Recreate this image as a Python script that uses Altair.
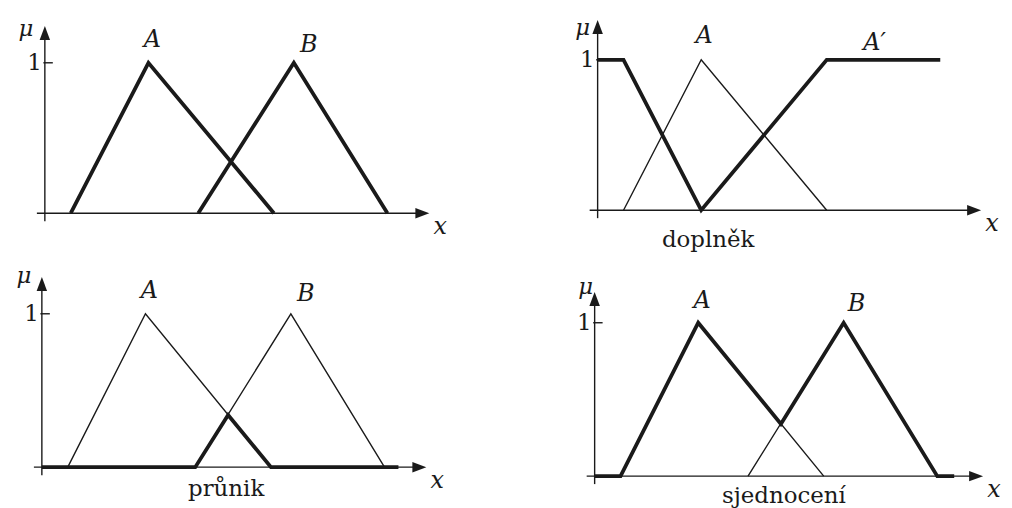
import altair as alt
import pandas as pd

# ---- data: fuzzy sets (x in arbitrary units, mu in [0,1]) ----
A_x = [2.6, 10.4, 23.0]
A_mu = [0.0, 1.0, 0.0]
B_x = [15.4, 25.0, 34.4]
B_mu = [0.0, 1.0, 0.0]
Acomp_x = [0.0, 2.6, 10.4, 23.0, 34.4]
Acomp_mu = [1.0, 1.0, 0.0, 1.0, 1.0]
inter_x = [0.0, 15.4, 18.7, 23.0, 35.8]
inter_mu = [0.0, 0.0, 0.34, 0.0, 0.0]
union_x = [0.0, 2.6, 10.4, 18.7, 25.0, 34.4, 36.1]
union_mu = [0.0, 0.0, 1.0, 0.34, 1.0, 0.0, 0.0]

captions = ["", "doplněk", "průnik", "sjednocení"]

INK = "#1a1a1a"
FONT = "DejaVu Serif"


def series(name, xs, ys):
    return pd.DataFrame({"s": name, "x": xs, "mu": ys, "o": range(len(xs))})


def panel(thick, thin, labels, caption, cap_xy, ox, oy, ppy, left, top,
          W=500, H=250, ppx=10.0, xtip=38.5, ytip=1.245, mu_xy=(-1.9, 1.24)):
    xdom = [(left - ox) / ppx, (left + W - ox) / ppx]
    ydom = [(oy - (top + H)) / ppy, (oy - top) / ppy]
    xs = alt.Scale(domain=xdom, nice=False, zero=False)
    ys = alt.Scale(domain=ydom, nice=False, zero=False)
    X = lambda f="x": alt.X(f, type="quantitative", scale=xs, axis=None)
    Y = lambda f="mu": alt.Y(f, type="quantitative", scale=ys, axis=None)

    layers = []
    # axis lines and the tick at mu = 1
    ax = pd.DataFrame({
        "x": [-0.8, 0.0, -0.15],
        "x2": [xtip - 1.0, 0.0, 0.8],
        "mu": [0.0, -8 / ppy, 1.0],
        "mu2": [0.0, ytip - 10 / ppy, 1.0],
    })
    layers.append(alt.Chart(ax).mark_rule(color=INK, strokeWidth=1.4).encode(
        x=X(), x2="x2", y=Y(), y2="mu2"))
    # arrow heads
    up = pd.DataFrame({"x": [0.0], "mu": [ytip - 7 / ppy]})
    rt = pd.DataFrame({"x": [xtip - 0.7], "mu": [0.0]})
    layers.append(alt.Chart(up).mark_point(
        shape="M-0.75,1L0,-1L0.75,1Z", size=196, filled=True, color=INK, opacity=1
    ).encode(x=X(), y=Y()))
    layers.append(alt.Chart(rt).mark_point(
        shape="M-1,-0.75L1,0L-1,0.75Z", size=196, filled=True, color=INK, opacity=1
    ).encode(x=X(), y=Y()))

    if thin:
        d = pd.concat(thin)
        layers.append(alt.Chart(d).mark_line(color=INK, strokeWidth=1.4, strokeJoin="miter").encode(
            x=X(), y=Y(), detail="s:N", order="o:Q"))
    if thick:
        d = pd.concat(thick)
        layers.append(alt.Chart(d).mark_line(color=INK, strokeWidth=3.8, strokeJoin="miter").encode(
            x=X(), y=Y(), detail="s:N", order="o:Q"))

    # italic set labels and the x label
    lab = pd.DataFrame(labels + [("x", xtip + 1.1, -0.09)], columns=["t", "x", "mu"])
    layers.append(alt.Chart(lab).mark_text(font=FONT, fontStyle="italic", fontSize=24,
                                           color=INK, baseline="middle").encode(
        x=X(), y=Y(), text="t:N"))
    mu = pd.DataFrame({"t": ["μ"], "x": [mu_xy[0]], "mu": [mu_xy[1]]})
    layers.append(alt.Chart(mu).mark_text(font=FONT, fontStyle="italic", fontSize=23,
                                          color=INK, baseline="middle").encode(
        x=X(), y=Y(), text="t:N"))
    # "1" tick label
    one = pd.DataFrame({"t": ["1"], "x": [-0.3], "mu": [1.0]})
    layers.append(alt.Chart(one).mark_text(font=FONT, fontSize=23, color=INK,
                                           align="right", baseline="middle").encode(
        x=X(), y=Y(), text="t:N"))
    if caption:
        cap = pd.DataFrame({"t": [caption], "x": [cap_xy[0]], "mu": [cap_xy[1]]})
        layers.append(alt.Chart(cap).mark_text(font=FONT, fontSize=23, color=INK,
                                               baseline="middle").encode(
            x=X(), y=Y(), text="t:N"))
    return alt.layer(*layers).properties(width=W, height=H)


p1 = panel(
    thick=[series("A", A_x, A_mu), series("B", B_x, B_mu)], thin=[],
    labels=[("A", 10.8, 1.15), ("B", 26.5, 1.12)],
    caption=captions[0], cap_xy=(0, 0),
    ox=45, oy=213, ppy=151, left=8, top=8, xtip=38.6, ytip=1.245,
    mu_xy=(-1.9, 1.225),
)
p2 = panel(
    thick=[series("Ac", Acomp_x, Acomp_mu)], thin=[series("A", A_x, A_mu)],
    labels=[("A", 10.7, 1.16), ("A′", 27.8, 1.11)],
    caption=captions[1], cap_xy=(11.1, -0.2),
    ox=600, oy=210, ppy=151, left=508, top=8, xtip=38.5, ytip=1.265,
    mu_xy=(-1.5, 1.21),
)
p3 = panel(
    thick=[series("I", inter_x, inter_mu)], thin=[series("A", A_x, A_mu), series("B", B_x, B_mu)],
    labels=[("A", 10.8, 1.15), ("B", 26.5, 1.13)],
    caption=captions[2], cap_xy=(18.5, -0.14),
    ox=42, oy=468, ppy=154, left=8, top=258, xtip=38.6, ytip=1.24,
    mu_xy=(-1.8, 1.245),
)
p4 = panel(
    thick=[series("U", union_x, union_mu)], thin=[series("A", A_x, A_mu), series("B", B_x, B_mu)],
    labels=[("A", 10.8, 1.14), ("B", 26.3, 1.12)],
    caption=captions[3], cap_xy=(19.0, -0.13),
    ox=597, oy=477, ppy=154, left=508, top=258, xtip=39.0, ytip=1.2,
    mu_xy=(-0.9, 1.23),
)

chart = alt.vconcat(
    alt.hconcat(p1, p2, spacing=0).resolve_scale(x="independent", y="independent"),
    alt.hconcat(p3, p4, spacing=0).resolve_scale(x="independent", y="independent"),
    spacing=0,
).resolve_scale(x="independent", y="independent").properties(
    padding=0, background="white"
).configure_view(stroke=None)

chart.save("out.html", embed_options={"renderer": "svg", "actions": False})
